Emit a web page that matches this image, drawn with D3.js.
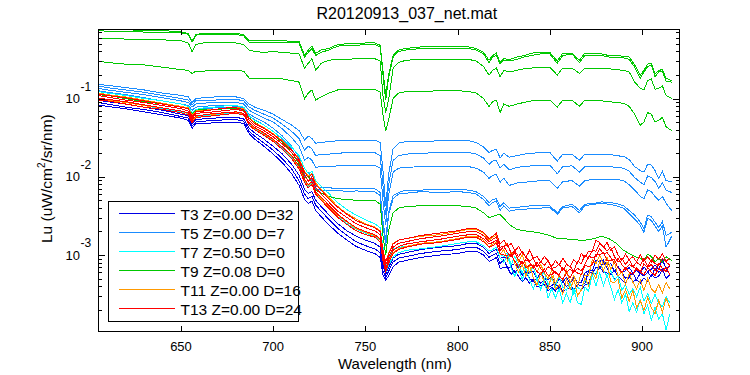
<!DOCTYPE html>
<html>
<head>
<meta charset="utf-8">
<script src="https://cdnjs.cloudflare.com/ajax/libs/d3/7.8.5/d3.min.js"></script>
<style>
  body { margin: 0; background: #fff; }
  text { font-family: Arial, "Liberation Sans", sans-serif; fill: #000; }
</style>
</head>
<body>
<div id="chart-area"></div>
<script>
// wavelength grid (nm)
var wl = [605,610,620,630,640,650,654,656,658,662,668,675,680,684,687,690,695,700,705,710,
  714,717,719,721,723,726,730,735,740,745,750,755,758,759.5,761,762.5,765,768,772,780,
  790,800,806,810,814,817,819,821,823,825,828,832,836,840,845,850,854,857,862,866,
  869,874,878,882,886,890,893,896,899,901,903,905,907,909,911,913,916];
// finer grid for the noisy tail of the low spectra
var wlTail = [825,827,829,831,833,835,837,839,841,843,845,847,849,851,853,855,857,859,861,863,
  865,867,869,871,873,875,877,879,881,883,885,887,889,891,893,895,897,899,901,903,
  905,907,909,911,913,915];

// spectra, stored as log10(Lu)
// T3 (up to 823 nm, then tail)
var t3a = [-1.02,-1.04,-1.07,-1.11,-1.15,-1.20,-1.22,-1.32,-1.27,-1.26,
  -1.25,-1.24,-1.24,-1.26,-1.38,-1.44,-1.52,-1.61,-1.71,-1.84,
  -1.98,-2.16,-2.21,-2.19,-2.30,-2.38,-2.48,-2.60,-2.69,-2.76,
  -2.81,-2.85,-2.90,-3.13,-3.25,-3.16,-3.04,-2.99,-2.97,-2.93,
  -2.90,-2.88,-2.85,-2.85,-2.90,-2.98,-2.95,-2.93,-3.04];
var t3aTail = [-3.03,-3.03,-3.13,-3.11,-3.17,-3.13,-3.25,-3.22,-3.21,-3.30,
  -3.22,-3.30,-3.32,-3.27,-3.38,-3.31,-3.34,-3.29,-3.36,-3.29,
  -3.35,-3.35,-3.23,-3.20,-3.20,-3.07,-3.08,-3.06,-3.13,-3.11,
  -3.21,-3.15,-3.22,-3.20,-3.16,-3.23,-3.20,-3.23,-3.15,-3.21,
  -3.18,-3.13,-3.18,-3.06,-3.17,-3.15];
var t3b = [-1.05,-1.07,-1.11,-1.14,-1.18,-1.23,-1.25,-1.35,-1.30,-1.29,
  -1.28,-1.27,-1.27,-1.29,-1.42,-1.48,-1.57,-1.66,-1.77,-1.90,
  -2.05,-2.22,-2.28,-2.25,-2.36,-2.44,-2.54,-2.66,-2.75,-2.83,
  -2.88,-2.92,-2.97,-3.20,-3.29,-3.21,-3.09,-3.04,-3.02,-2.98,
  -2.95,-2.93,-2.90,-2.90,-2.95,-3.03,-3.00,-2.98,-3.11];
var t3bTail = [-3.06,-3.16,-3.15,-3.23,-3.17,-3.26,-3.21,-3.30,-3.34,-3.30,
  -3.36,-3.31,-3.41,-3.39,-3.36,-3.43,-3.34,-3.40,-3.38,-3.45,
  -3.38,-3.39,-3.36,-3.21,-3.23,-3.16,-3.17,-3.09,-3.17,-3.25,
  -3.20,-3.27,-3.21,-3.30,-3.27,-3.23,-3.32,-3.23,-3.27,-3.22,
  -3.27,-3.17,-3.22,-3.17,-3.17,-3.25];
var t3c = [-1.08,-1.10,-1.13,-1.17,-1.21,-1.25,-1.28,-1.38,-1.32,-1.32,
  -1.31,-1.30,-1.30,-1.32,-1.45,-1.52,-1.61,-1.71,-1.82,-1.96,
  -2.11,-2.29,-2.34,-2.31,-2.43,-2.51,-2.61,-2.72,-2.81,-2.89,
  -2.94,-2.98,-3.03,-3.25,-3.32,-3.27,-3.15,-3.09,-3.07,-3.03,
  -3.00,-2.98,-2.95,-2.95,-3.00,-3.08,-3.06,-3.03,-3.17];
var t3cTail = [-3.16,-3.16,-3.25,-3.20,-3.27,-3.34,-3.29,-3.36,-3.31,-3.41,
  -3.39,-3.38,-3.46,-3.41,-3.46,-3.39,-3.46,-3.44,-3.41,-3.49,
  -3.41,-3.45,-3.38,-3.36,-3.23,-3.23,-3.15,-3.22,-3.23,-3.23,
  -3.31,-3.27,-3.32,-3.36,-3.27,-3.34,-3.31,-3.36,-3.29,-3.34,
  -3.25,-3.29,-3.27,-3.18,-3.30,-3.25];
// T5
var t5a = [-0.82,-0.83,-0.86,-0.89,-0.93,-0.96,-0.98,-1.05,-1.00,-0.99,
  -0.98,-0.98,-0.98,-1.00,-1.07,-1.11,-1.15,-1.20,-1.27,-1.34,
  -1.41,-1.53,-1.48,-1.51,-1.57,-1.56,-1.55,-1.54,-1.53,-1.53,
  -1.53,-1.53,-1.56,-1.92,-2.37,-1.98,-1.64,-1.57,-1.55,-1.55,
  -1.54,-1.53,-1.54,-1.56,-1.62,-1.69,-1.66,-1.65,-1.76,-1.70,
  -1.75,-1.73,-1.71,-1.70,-1.69,-1.69,-1.80,-1.71,-1.71,-1.79,
  -1.71,-1.71,-1.71,-1.71,-1.73,-1.74,-1.78,-1.87,-1.92,-1.94,
  -1.84,-1.85,-1.92,-2.02,-1.93,-2.05,-2.06];
var t5b = [-0.84,-0.86,-0.89,-0.92,-0.96,-1.00,-1.02,-1.08,-1.03,-1.02,
  -1.02,-1.01,-1.01,-1.03,-1.11,-1.15,-1.20,-1.25,-1.33,-1.42,
  -1.51,-1.66,-1.61,-1.64,-1.73,-1.71,-1.71,-1.70,-1.69,-1.69,
  -1.69,-1.69,-1.73,-2.11,-2.49,-2.11,-1.79,-1.73,-1.71,-1.70,
  -1.69,-1.69,-1.69,-1.71,-1.76,-1.84,-1.80,-1.79,-1.89,-1.84,
  -1.91,-1.88,-1.87,-1.86,-1.85,-1.85,-1.96,-1.87,-1.86,-1.94,
  -1.87,-1.87,-1.87,-1.87,-1.88,-1.89,-1.93,-2.01,-2.07,-2.10,
  -1.99,-2.01,-2.06,-2.15,-2.08,-2.17,-2.20];
var t5c = [-0.87,-0.89,-0.92,-0.95,-0.99,-1.03,-1.05,-1.11,-1.07,-1.06,
  -1.05,-1.05,-1.05,-1.07,-1.15,-1.19,-1.25,-1.30,-1.39,-1.50,
  -1.61,-1.79,-1.75,-1.79,-1.88,-1.87,-1.87,-1.86,-1.86,-1.85,
  -1.85,-1.85,-1.89,-2.30,-2.62,-2.24,-1.94,-1.89,-1.88,-1.87,
  -1.87,-1.87,-1.87,-1.89,-1.94,-2.02,-1.98,-1.97,-2.07,-2.02,
  -2.11,-2.08,-2.07,-2.06,-2.05,-2.05,-2.15,-2.06,-2.05,-2.12,
  -2.05,-2.03,-2.03,-2.03,-2.03,-2.05,-2.10,-2.17,-2.25,-2.28,
  -2.17,-2.19,-2.25,-2.30,-2.25,-2.34,-2.43];
var t5d = [-0.90,-0.92,-0.95,-0.99,-1.03,-1.07,-1.09,-1.15,-1.11,-1.10,
  -1.09,-1.09,-1.10,-1.12,-1.20,-1.24,-1.30,-1.38,-1.48,-1.61,
  -1.75,-1.97,-1.94,-2.01,-2.12,-2.14,-2.14,-2.15,-2.15,-2.15,
  -2.15,-2.15,-2.20,-2.56,-2.81,-2.46,-2.24,-2.20,-2.17,-2.17,
  -2.16,-2.16,-2.17,-2.19,-2.25,-2.33,-2.29,-2.28,-2.38,-2.33,
  -2.40,-2.39,-2.38,-2.37,-2.37,-2.37,-2.46,-2.38,-2.35,-2.43,
  -2.35,-2.34,-2.32,-2.33,-2.34,-2.37,-2.43,-2.49,-2.58,-2.66,
  -2.49,-2.51,-2.58,-2.65,-2.57,-2.75,-2.71];
var t5e = [-0.93,-0.95,-0.98,-1.02,-1.06,-1.10,-1.12,-1.18,-1.14,-1.13,
  -1.12,-1.12,-1.13,-1.15,-1.23,-1.27,-1.34,-1.42,-1.52,-1.65,
  -1.79,-1.99,-1.98,-2.05,-2.16,-2.17,-2.18,-2.17,-2.19,-2.18,
  -2.19,-2.19,-2.24,-2.62,-2.88,-2.49,-2.28,-2.22,-2.21,-2.19,
  -2.20,-2.19,-2.20,-2.22,-2.29,-2.37,-2.33,-2.31,-2.43,-2.37,
  -2.44,-2.42,-2.42,-2.40,-2.40,-2.39,-2.48,-2.40,-2.38,-2.46,
  -2.37,-2.35,-2.34,-2.35,-2.37,-2.40,-2.47,-2.54,-2.62,-2.71,
  -2.53,-2.56,-2.63,-2.70,-2.63,-2.90,-2.76];
// T7
var t7a = [-0.91,-0.93,-0.96,-1.00,-1.03,-1.07,-1.10,-1.19,-1.14,-1.12,
  -1.11,-1.09,-1.09,-1.11,-1.22,-1.28,-1.34,-1.42,-1.51,-1.62,
  -1.73,-1.89,-1.96,-1.93,-2.05,-2.12,-2.21,-2.33,-2.42,-2.49,
  -2.55,-2.60,-2.65,-2.90,-3.15,-3.04,-2.92,-2.90,-2.89,-2.86,
  -2.84,-2.80,-2.77,-2.77,-2.83,-2.90,-2.88,-2.85,-2.99];
var t7aTail = [-3.02,-2.97,-3.12,-3.02,-3.13,-3.23,-3.12,-3.23,-3.15,-3.30,
  -3.27,-3.22,-3.38,-3.30,-3.40,-3.27,-3.41,-3.45,-3.36,-3.50,
  -3.41,-3.45,-3.30,-3.40,-3.22,-3.25,-3.09,-3.20,-3.27,-3.20,
  -3.32,-3.26,-3.45,-3.38,-3.50,-3.43,-3.53,-3.41,-3.59,-3.49,
  -3.62,-3.50,-3.62,-3.66,-3.53,-3.61];
var t7b = [-1.00,-1.02,-1.05,-1.09,-1.13,-1.17,-1.19,-1.30,-1.23,-1.22,
  -1.21,-1.19,-1.18,-1.20,-1.32,-1.39,-1.46,-1.54,-1.64,-1.76,
  -1.88,-2.06,-2.12,-2.08,-2.21,-2.29,-2.39,-2.51,-2.60,-2.67,
  -2.72,-2.76,-2.81,-3.07,-3.22,-3.13,-3.02,-2.97,-2.94,-2.92,
  -2.89,-2.85,-2.83,-2.83,-2.88,-2.95,-2.93,-2.90,-3.04];
var t7bTail = [-3.09,-3.00,-3.17,-3.27,-3.16,-3.32,-3.17,-3.32,-3.43,-3.30,
  -3.44,-3.32,-3.55,-3.43,-3.55,-3.43,-3.61,-3.49,-3.61,-3.43,
  -3.61,-3.63,-3.41,-3.46,-3.25,-3.39,-3.23,-3.39,-3.26,-3.41,
  -3.57,-3.44,-3.61,-3.50,-3.72,-3.61,-3.73,-3.57,-3.75,-3.64,
  -3.84,-3.67,-3.82,-3.75,-3.96,-3.75];
// T9
var t9a = [-0.12,-0.12,-0.12,-0.13,-0.13,-0.15,-0.17,-0.27,-0.18,-0.17,
  -0.17,-0.17,-0.17,-0.18,-0.26,-0.26,-0.26,-0.26,-0.26,-0.27,
  -0.27,-0.45,-0.38,-0.33,-0.42,-0.38,-0.36,-0.31,-0.30,-0.30,
  -0.29,-0.29,-0.32,-0.64,-0.96,-0.70,-0.45,-0.38,-0.36,-0.34,
  -0.34,-0.34,-0.34,-0.36,-0.41,-0.51,-0.45,-0.42,-0.54,-0.49,
  -0.50,-0.47,-0.45,-0.42,-0.41,-0.41,-0.52,-0.42,-0.42,-0.51,
  -0.42,-0.43,-0.43,-0.45,-0.45,-0.46,-0.47,-0.57,-0.70,-0.64,
  -0.56,-0.55,-0.69,-0.64,-0.63,-0.74,-0.77];
var t9b = [-0.13,-0.14,-0.14,-0.15,-0.15,-0.16,-0.18,-0.28,-0.19,-0.18,
  -0.18,-0.18,-0.18,-0.20,-0.28,-0.29,-0.29,-0.28,-0.29,-0.29,
  -0.29,-0.47,-0.41,-0.36,-0.45,-0.41,-0.38,-0.33,-0.32,-0.32,
  -0.31,-0.31,-0.34,-0.70,-1.02,-0.74,-0.47,-0.40,-0.38,-0.36,
  -0.36,-0.36,-0.36,-0.38,-0.43,-0.54,-0.47,-0.45,-0.56,-0.51,
  -0.52,-0.50,-0.47,-0.45,-0.43,-0.43,-0.55,-0.45,-0.43,-0.54,
  -0.45,-0.45,-0.45,-0.47,-0.47,-0.48,-0.50,-0.60,-0.74,-0.66,
  -0.59,-0.57,-0.72,-0.66,-0.65,-0.78,-0.79];
var t9c = [-0.23,-0.23,-0.24,-0.24,-0.25,-0.26,-0.29,-0.40,-0.31,-0.29,
  -0.29,-0.29,-0.29,-0.31,-0.38,-0.40,-0.41,-0.40,-0.41,-0.42,
  -0.43,-0.61,-0.55,-0.49,-0.64,-0.55,-0.51,-0.50,-0.50,-0.49,
  -0.49,-0.49,-0.52,-0.96,-1.18,-1.02,-0.61,-0.54,-0.51,-0.50,
  -0.50,-0.50,-0.50,-0.52,-0.59,-0.70,-0.64,-0.61,-0.72,-0.64,
  -0.66,-0.64,-0.62,-0.61,-0.60,-0.60,-0.70,-0.61,-0.61,-0.68,
  -0.61,-0.61,-0.62,-0.62,-0.63,-0.64,-0.66,-0.79,-0.87,-0.89,
  -0.77,-0.75,-0.88,-0.87,-0.84,-0.96,-1.00];
var t9d = [-0.52,-0.54,-0.56,-0.57,-0.60,-0.63,-0.64,-0.68,-0.65,-0.65,
  -0.64,-0.64,-0.64,-0.65,-0.74,-0.75,-0.75,-0.74,-0.75,-0.77,
  -0.79,-1.00,-0.93,-0.89,-1.02,-0.98,-0.93,-0.89,-0.88,-0.88,
  -0.88,-0.88,-0.92,-1.21,-1.41,-1.28,-1.00,-0.93,-0.91,-0.91,
  -0.90,-0.90,-0.91,-0.93,-1.00,-1.10,-1.04,-1.02,-1.18,-1.07,
  -1.10,-1.07,-1.05,-1.03,-1.02,-1.02,-1.11,-1.02,-1.02,-1.10,
  -1.02,-1.02,-1.03,-1.04,-1.05,-1.06,-1.10,-1.20,-1.34,-1.30,
  -1.18,-1.20,-1.30,-1.28,-1.24,-1.36,-1.41];
var t9e = [-0.95,-0.96,-1.00,-1.04,-1.07,-1.11,-1.13,-1.20,-1.15,-1.14,
  -1.14,-1.13,-1.13,-1.16,-1.25,-1.30,-1.38,-1.46,-1.56,-1.69,
  -1.83,-2.02,-1.99,-2.07,-2.17,-2.21,-2.25,-2.28,-2.29,-2.30,
  -2.30,-2.30,-2.35,-2.75,-3.00,-2.69,-2.46,-2.40,-2.38,-2.37,
  -2.37,-2.37,-2.38,-2.40,-2.46,-2.52,-2.51,-2.49,-2.48,-2.53,
  -2.61,-2.67,-2.69,-2.70,-2.72,-2.75,-2.79,-2.79,-2.80,-2.81,
  -2.81,-2.79,-2.76,-2.79,-2.85,-2.94,-2.98,-3.02,-3.04,-3.07,
  -2.99,-3.02,-3.09,-3.04,-3.09,-3.02,-3.07];
// T11
var t11a = [-0.93,-0.95,-0.98,-1.02,-1.06,-1.10,-1.12,-1.22,-1.16,-1.15,
  -1.14,-1.12,-1.11,-1.13,-1.25,-1.31,-1.37,-1.45,-1.54,-1.66,
  -1.77,-1.93,-1.99,-1.96,-2.08,-2.16,-2.26,-2.38,-2.47,-2.54,
  -2.60,-2.64,-2.69,-2.93,-3.09,-2.98,-2.85,-2.81,-2.79,-2.76,
  -2.74,-2.70,-2.67,-2.67,-2.72,-2.81,-2.77,-2.75,-2.90];
var t11aTail = [-2.89,-2.85,-3.00,-2.95,-3.09,-2.99,-3.13,-3.22,-3.12,-3.22,
  -3.12,-3.23,-3.30,-3.20,-3.36,-3.26,-3.32,-3.20,-3.35,-3.26,
  -3.39,-3.23,-3.26,-3.26,-3.06,-3.11,-3.00,-3.12,-3.03,-3.18,
  -3.09,-3.27,-3.21,-3.38,-3.23,-3.35,-3.43,-3.32,-3.45,-3.30,
  -3.43,-3.48,-3.38,-3.48,-3.35,-3.43];
var t11b = [-1.00,-1.02,-1.05,-1.09,-1.12,-1.16,-1.19,-1.29,-1.23,-1.21,
  -1.20,-1.18,-1.18,-1.19,-1.32,-1.38,-1.45,-1.53,-1.62,-1.74,
  -1.87,-2.04,-2.11,-2.07,-2.20,-2.28,-2.38,-2.49,-2.58,-2.66,
  -2.71,-2.75,-2.80,-3.04,-3.20,-3.09,-2.97,-2.92,-2.89,-2.85,
  -2.83,-2.79,-2.76,-2.76,-2.81,-2.90,-2.86,-2.84,-2.99];
var t11bTail = [-2.93,-3.07,-2.97,-3.11,-3.22,-3.12,-3.27,-3.13,-3.29,-3.39,
  -3.23,-3.34,-3.43,-3.26,-3.44,-3.38,-3.50,-3.31,-3.44,-3.31,
  -3.52,-3.45,-3.29,-3.39,-3.21,-3.30,-3.08,-3.20,-3.09,-3.34,
  -3.35,-3.31,-3.55,-3.44,-3.59,-3.45,-3.67,-3.58,-3.71,-3.54,
  -3.67,-3.75,-3.58,-3.73,-3.55,-3.67];
// T13
var t13a = [-0.94,-0.96,-0.99,-1.03,-1.07,-1.11,-1.13,-1.23,-1.17,-1.16,
  -1.14,-1.12,-1.12,-1.14,-1.25,-1.32,-1.38,-1.46,-1.55,-1.66,
  -1.78,-1.94,-2.01,-1.97,-2.10,-2.17,-2.28,-2.39,-2.48,-2.56,
  -2.61,-2.65,-2.70,-2.94,-3.09,-2.99,-2.86,-2.81,-2.79,-2.75,
  -2.72,-2.69,-2.66,-2.66,-2.71,-2.79,-2.76,-2.72,-2.86];
var t13aTail = [-2.81,-2.89,-2.85,-2.95,-2.89,-2.97,-3.03,-2.94,-3.04,-3.02,
  -3.09,-3.02,-3.07,-3.15,-3.07,-3.13,-3.04,-3.11,-3.15,-3.06,
  -3.11,-2.98,-3.03,-2.95,-2.95,-2.81,-2.84,-2.90,-2.84,-2.94,
  -2.89,-3.00,-3.07,-2.99,-3.06,-3.02,-3.09,-3.00,-3.08,-3.02,
  -3.09,-3.00,-3.06,-2.98,-3.08,-3.04];
var t13b = [-0.96,-0.98,-1.02,-1.05,-1.09,-1.13,-1.16,-1.26,-1.19,-1.18,
  -1.17,-1.15,-1.14,-1.16,-1.28,-1.35,-1.41,-1.49,-1.58,-1.69,
  -1.81,-1.98,-2.06,-2.01,-2.14,-2.22,-2.32,-2.44,-2.52,-2.60,
  -2.65,-2.69,-2.74,-2.99,-3.13,-3.03,-2.90,-2.85,-2.83,-2.79,
  -2.76,-2.72,-2.70,-2.70,-2.75,-2.83,-2.80,-2.77,-2.90];
var t13bTail = [-2.89,-2.86,-2.98,-2.95,-3.02,-2.95,-3.03,-3.08,-3.04,-3.15,
  -3.08,-3.13,-3.07,-3.17,-3.16,-3.11,-3.20,-3.12,-3.15,-3.20,
  -3.08,-3.11,-3.00,-3.04,-2.94,-2.95,-2.85,-2.89,-2.95,-2.90,
  -3.02,-3.09,-3.04,-3.12,-3.06,-3.15,-3.09,-3.13,-3.04,-3.15,
  -3.06,-3.11,-3.13,-3.04,-3.09,-3.13];
var t13c = [-0.99,-1.01,-1.04,-1.08,-1.12,-1.16,-1.18,-1.28,-1.22,-1.21,
  -1.19,-1.18,-1.17,-1.19,-1.31,-1.37,-1.44,-1.52,-1.62,-1.73,
  -1.86,-2.03,-2.10,-2.06,-2.19,-2.26,-2.36,-2.48,-2.57,-2.65,
  -2.70,-2.74,-2.79,-3.03,-3.17,-3.07,-2.94,-2.89,-2.86,-2.83,
  -2.80,-2.76,-2.74,-2.74,-2.79,-2.86,-2.84,-2.81,-2.94];
var t13cTail = [-2.89,-2.97,-3.02,-2.97,-3.06,-3.11,-3.06,-3.09,-3.17,-3.09,
  -3.17,-3.22,-3.15,-3.18,-3.23,-3.25,-3.16,-3.22,-3.18,-3.22,
  -3.17,-3.20,-3.12,-3.02,-3.03,-3.02,-2.92,-2.98,-2.97,-3.03,
  -3.11,-3.04,-3.12,-3.18,-3.12,-3.15,-3.18,-3.22,-3.11,-3.16,
  -3.12,-3.20,-3.11,-3.17,-3.21,-3.12];
var t13d = [-1.02,-1.03,-1.07,-1.11,-1.14,-1.18,-1.21,-1.31,-1.25,-1.23,
  -1.22,-1.20,-1.19,-1.21,-1.34,-1.40,-1.47,-1.55,-1.65,-1.77,
  -1.90,-2.07,-2.14,-2.10,-2.22,-2.30,-2.40,-2.52,-2.61,-2.69,
  -2.74,-2.77,-2.83,-3.07,-3.21,-3.11,-2.98,-2.93,-2.90,-2.86,
  -2.84,-2.80,-2.77,-2.77,-2.83,-2.90,-2.88,-2.85,-2.98];
var t13dTail = [-3.00,-3.00,-2.99,-3.08,-3.15,-3.08,-3.16,-3.13,-3.13,-3.21,
  -3.25,-3.18,-3.26,-3.25,-3.21,-3.27,-3.31,-3.23,-3.29,-3.20,
  -3.23,-3.25,-3.13,-3.15,-3.12,-2.99,-3.00,-2.97,-3.07,-3.07,
  -3.06,-3.17,-3.22,-3.16,-3.22,-3.25,-3.16,-3.22,-3.25,-3.16,
  -3.22,-3.26,-3.17,-3.21,-3.16,-3.25];

var legendNames = ["T3 Z=0.00 D=32", "T5 Z=0.00 D=7", "T7 Z=0.50 D=0",
                   "T9 Z=0.08 D=0", "T11 Z=0.00 D=16", "T13 Z=0.00 D=24"];
// [main part, tail part] per spectrum, grouped by legend entry
var groups = [
  [[t3a, t3aTail], [t3b, t3bTail], [t3c, t3cTail]],
  [[t5a], [t5b], [t5c], [t5d], [t5e]],
  [[t7a, t7aTail], [t7b, t7bTail]],
  [[t9a], [t9b], [t9c], [t9d], [t9e]],
  [[t11a, t11aTail], [t11b, t11bTail]],
  [[t13a, t13aTail], [t13b, t13bTail], [t13c, t13cTail], [t13d, t13dTail]]
];
var xTicks = [650, 700, 750, 800, 850, 900];
var yTicks = [1e-3, 1e-2, 1e-1];

var colors = ["#0000e6", "#1a8cff", "#00ffff", "#00c800", "#ff9900", "#ff0000"];

var W = 750, H = 375;
// plot box (names avoid window.top etc.)
var pL = 98, pR = 679, pT = 29, pB = 331;

var svg = d3.select("#chart-area")
    .append("svg")
    .attr("width", W)
    .attr("height", H)
    .style("display", "block");

svg.append("rect").attr("width", W).attr("height", H).attr("fill", "#fff");

var x = d3.scaleLinear().domain([605, 920]).range([pL, pR]);
var y = d3.scaleLog().domain([1.07e-4, 0.774]).range([pB, pT]);

svg.append("clipPath").attr("id", "plotclip")
  .append("rect")
    .attr("x", pL).attr("y", pT)
    .attr("width", pR - pL).attr("height", pB - pT);

var line = d3.line()
    .x(function(d){ return x(d[0]); })
    .y(function(d){ return y(Math.pow(10, d[1])); });

function toPoints(parts) {
    var pts = parts[0].map(function(v, i){ return [wl[i], v]; });
    if (parts[1]) parts[1].forEach(function(v, i){ pts.push([wlTail[i], v]); });
    return pts;
}

var plot = svg.append("g").attr("clip-path", "url(#plotclip)");
groups.forEach(function(g, gi){
    g.forEach(function(parts){
        plot.append("path")
            .attr("d", line(toPoints(parts)))
            .attr("fill", "none")
            .attr("stroke", colors[gi])
            .attr("stroke-width", 1)
            .attr("shape-rendering", "crispEdges");
    });
});

// frame
svg.append("rect")
    .attr("x", pL + 0.5).attr("y", pT + 0.5)
    .attr("width", pR - pL).attr("height", pB - pT)
    .attr("fill", "none").attr("stroke", "#000").attr("stroke-width", 1)
    .attr("shape-rendering", "crispEdges");

// x ticks, inward at bottom and top
var ticks = svg.append("g").attr("stroke", "#000").attr("shape-rendering", "crispEdges");
xTicks.forEach(function(v){
    var px = Math.round(x(v)) + 0.5;
    ticks.append("line").attr("x1", px).attr("x2", px).attr("y1", pB).attr("y2", pB - 5);
    ticks.append("line").attr("x1", px).attr("x2", px).attr("y1", pT + 1).attr("y2", pT + 6);
    svg.append("text")
        .attr("x", x(v)).attr("y", pB + 20)
        .attr("text-anchor", "middle")
        .attr("font-size", "13px")
        .text(v);
});

// y ticks, log major and minor
var minor = [];
[-4, -3, -2, -1].forEach(function(e){
    for (var k = 2; k <= 9; k++) minor.push(k * Math.pow(10, e));
});
minor.filter(function(v){ return v > y.domain()[0] && v < y.domain()[1]; })
  .forEach(function(v){
    var py = Math.round(y(v)) + 0.5;
    ticks.append("line").attr("x1", pL).attr("x2", pL + 4).attr("y1", py).attr("y2", py);
    ticks.append("line").attr("x1", pR + 1).attr("x2", pR - 3).attr("y1", py).attr("y2", py);
});
yTicks.forEach(function(v){
    var py = Math.round(y(v)) + 0.5;
    ticks.append("line").attr("x1", pL).attr("x2", pL + 7).attr("y1", py).attr("y2", py);
    ticks.append("line").attr("x1", pR + 1).attr("x2", pR - 6).attr("y1", py).attr("y2", py);
    svg.append("text")
        .attr("x", 80).attr("y", y(v) + 4.5)
        .attr("text-anchor", "end")
        .attr("font-size", "13px")
        .text("10");
    svg.append("text")
        .attr("x", 80.5).attr("y", y(v) - 8)
        .attr("font-size", "12px")
        .text("-" + Math.round(-Math.log10(v)));
});

// title and axis labels
svg.append("text")
    .attr("x", 316.5).attr("y", 19)
    .attr("font-size", "16px")
    .text("R20120913_037_net.mat");

svg.append("text")
    .attr("x", 338).attr("y", 369)
    .attr("font-size", "15px")
    .text("Wavelength (nm)");

var yl = svg.append("text")
    .attr("transform", "translate(52,243) rotate(-90)")
    .attr("font-size", "15.5px");
yl.append("tspan").text("Lu (uW/cm");
yl.append("tspan").attr("font-size", "10px").attr("dy", -7).text("2");
yl.append("tspan").attr("dy", 7).text("/sr/nm)");

// legend
var lg = svg.append("g");
lg.append("rect")
    .attr("x", 108.5).attr("y", 201.5)
    .attr("width", 190).attr("height", 120)
    .attr("fill", "#fff").attr("stroke", "#000")
    .attr("shape-rendering", "crispEdges");
legendNames.forEach(function(name, i){
    var ly = 213.5 + i * 19;
    lg.append("line")
        .attr("x1", 119).attr("x2", 175)
        .attr("y1", ly).attr("y2", ly)
        .attr("stroke", colors[i])
        .attr("stroke-width", 1)
        .attr("shape-rendering", "crispEdges");
    lg.append("text")
        .attr("x", 180.5).attr("y", ly + 6)
        .attr("font-size", "15.5px")
        .text(name);
});
</script>
</body>
</html>
